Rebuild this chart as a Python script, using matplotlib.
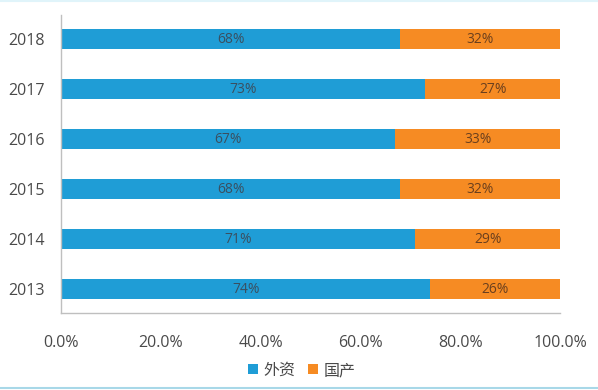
import matplotlib
matplotlib.use("Agg")
import matplotlib.pyplot as plt
from matplotlib.ticker import FuncFormatter

plt.rcParams['font.family'] = ['Open Sans', 'Noto Sans CJK SC', 'DejaVu Sans']

years = ['2013', '2014', '2015', '2016', '2017', '2018']
foreign = [74, 71, 68, 67, 73, 68]    # 外资
domestic = [26, 29, 32, 33, 27, 32]   # 国产

blue = '#1f9dd6'
orange = '#f68b23'

fig = plt.figure(figsize=(5.98, 3.90), dpi=100)
ax = fig.add_axes([0.102, 0.197, 0.8345, 0.7645])

y = range(len(years))
b1 = ax.barh(y, foreign, height=0.4, color=blue, label='外资')
b2 = ax.barh(y, domestic, left=foreign, height=0.4, color=orange, label='国产')

for i in y:
    ax.text(foreign[i] / 2, i, f'{foreign[i]}%', ha='center', va='center',
            fontsize=10, color='#3a4f60')
    ax.text(foreign[i] + domestic[i] / 2, i, f'{domestic[i]}%', ha='center',
            va='center', fontsize=10, color='#6a3f1e')

ax.set_xlim(0, 100)
ax.set_ylim(-0.48, 5.48)
ax.set_yticks(list(y))
ax.set_yticklabels(years)
ax.set_xticks([0, 20, 40, 60, 80, 100])
ax.xaxis.set_major_formatter(FuncFormatter(lambda v, p: f'{v:.1f}%'))
ax.tick_params(axis='both', length=0, labelsize=11.5, colors='#4a4a4a')
ax.tick_params(axis='x', pad=16)
ax.tick_params(axis='y', pad=12)

for s in ['top', 'right']:
    ax.spines[s].set_visible(False)
for s in ['left', 'bottom']:
    ax.spines[s].set_color('#bfbfbf')
    ax.spines[s].set_linewidth(1)

fig.legend(handles=[b1, b2], loc='center', bbox_to_anchor=(0.505, 0.049),
           ncol=2, frameon=False, fontsize=11.5, handlelength=0.6,
           handleheight=0.6, handletextpad=0.35, columnspacing=0.8,
           labelcolor='#4a4a4a')

fig.add_artist(plt.Line2D([0, 1], [0.004, 0.004], color='#a8d8e8', lw=1.5))
fig.add_artist(plt.Line2D([0, 1], [0.998, 0.998], color='#e0f4fa', lw=1.5))

fig.savefig('out.png', dpi=100)
